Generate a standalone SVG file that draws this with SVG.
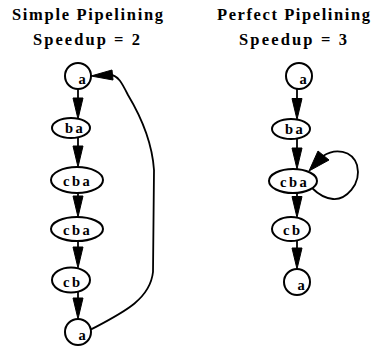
<svg xmlns="http://www.w3.org/2000/svg" width="374" height="349" viewBox="0 0 374 349">
  <style>
    .title { font-family: "Liberation Serif", "DejaVu Serif", serif; font-weight: bold; font-size: 16.5px; fill: #000; }
    .node ellipse, .node circle { fill: #fff; stroke: #000; stroke-width: 2; }
    .node text { font-family: "Liberation Serif", "DejaVu Serif", serif; font-weight: bold; font-size: 14.5px; fill: #000; letter-spacing: 2.5px; }
    .edge { fill: none; stroke: #000; stroke-width: 1.8; }
    .head { fill: #000; stroke: #000; stroke-width: 1; stroke-linejoin: miter; }
  </style>
  <defs>
    <!-- downward arrowhead, tip at the origin -->
    <polygon id="down" class="head" points="0,0 -5,-21 5,-21"/>
  </defs>
  <rect width="374" height="349" fill="#fff"/>

  <!-- titles -->
  <text class="title" x="12" y="20" textLength="151" lengthAdjust="spacing">Simple Pipelining</text>
  <text class="title" x="33" y="45" textLength="107" lengthAdjust="spacing">Speedup = 2</text>
  <text class="title" x="217" y="20" textLength="153" lengthAdjust="spacing">Perfect Pipelining</text>
  <text class="title" x="239" y="45" textLength="108" lengthAdjust="spacing">Speedup = 3</text>

  <!-- connectors -->
  <g id="edges">
    <!-- simple pipelining chain -->
    <line class="edge" x1="78" y1="89" x2="78" y2="100"/>
    <use href="#down" x="78" y="119"/>
    <line class="edge" x1="78" y1="137" x2="78" y2="148"/>
    <use href="#down" x="78" y="167"/>
    <line class="edge" x1="78" y1="193" x2="78" y2="198"/>
    <use href="#down" x="78" y="217"/>
    <line class="edge" x1="78" y1="241" x2="78" y2="249"/>
    <use href="#down" x="78" y="268"/>
    <line class="edge" x1="78" y1="292" x2="78" y2="300"/>
    <use href="#down" x="78" y="319"/>
    <!-- back edge a -> a -->
    <path class="edge" d="M 90,330 C 122,313 150,300 153,272 L 154,170 C 152,140 140,115 128,95 C 122,83 118,75 110,75"/>
    <polygon class="head" points="91,76 112,70 113,80"/>

    <!-- perfect pipelining chain -->
    <line class="edge" x1="297" y1="89" x2="297" y2="100"/>
    <use href="#down" x="297" y="119.5"/>
    <line class="edge" x1="297" y1="138" x2="297" y2="148"/>
    <use href="#down" x="297" y="169"/>
    <line class="edge" x1="297" y1="193" x2="297" y2="197"/>
    <use href="#down" x="297" y="217.5"/>
    <line class="edge" x1="297" y1="240" x2="297" y2="249"/>
    <use href="#down" x="297" y="269"/>
    <!-- self loop on cba -->
    <path class="edge" d="M 323,156 C 335,148 352,150 357,165 C 362,185 345,200 333,199 C 322,198 315,191 312,188"/>
    <polygon class="head" points="309,171 318,151 329,160"/>
  </g>

  <!-- simple pipelining nodes -->
  <g id="s_a1" class="node"><circle cx="78" cy="76" r="13"/><text x="78.5" y="84">a</text></g>
  <g id="s_ba" class="node"><ellipse cx="71" cy="128" rx="19" ry="10"/><text x="65" y="133">ba</text></g>
  <g id="s_cba1" class="node"><ellipse cx="77" cy="180" rx="26" ry="13"/><text x="63" y="186">cba</text></g>
  <g id="s_cba2" class="node"><ellipse cx="77" cy="229" rx="26" ry="12"/><text x="63" y="235">cba</text></g>
  <g id="s_cb" class="node"><ellipse cx="71" cy="280" rx="19" ry="12.5"/><text x="63" y="287">cb</text></g>
  <g id="s_a2" class="node"><circle cx="78" cy="332" r="13"/><text x="78.5" y="340">a</text></g>

  <!-- perfect pipelining nodes -->
  <g id="p_a1" class="node"><circle cx="299" cy="76" r="13"/><text x="299.5" y="84">a</text></g>
  <g id="p_ba" class="node"><ellipse cx="291" cy="129" rx="19" ry="10"/><text x="285" y="134">ba</text></g>
  <g id="p_cba" class="node"><ellipse cx="293" cy="181" rx="24" ry="12"/><text x="280" y="187">cba</text></g>
  <g id="p_cb" class="node"><ellipse cx="291" cy="229" rx="19" ry="12"/><text x="283" y="235">cb</text></g>
  <g id="p_a2" class="node"><circle cx="297" cy="282" r="13"/><text x="297.5" y="290">a</text></g>
</svg>
